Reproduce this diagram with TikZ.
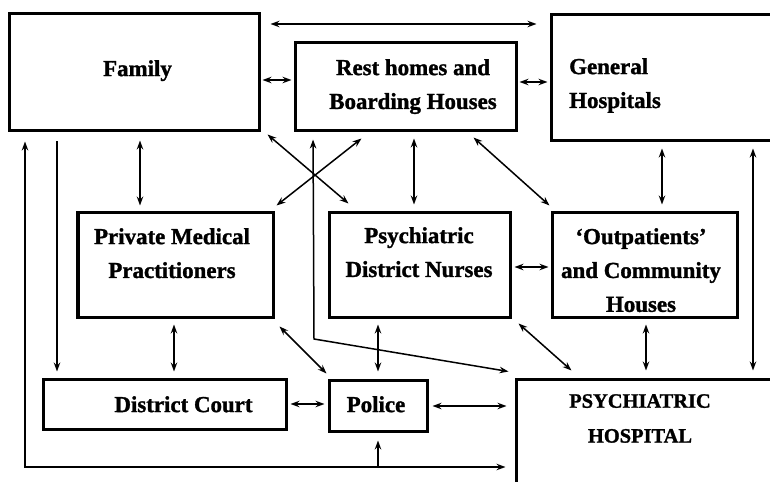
\documentclass[tikz,border=0pt]{standalone}
\usepackage{fontspec}
\setmainfont{Liberation Serif}[BoldFeatures={FakeBold=1.3}]
\usetikzlibrary{arrows.meta,calc}
\begin{document}
\begin{tikzpicture}[x=1bp,y=-1bp,
  box/.style={draw, line width=3bp, inner sep=0pt, rectangle},
  lbl/.style={font=\bfseries\fontsize{23}{34}\selectfont, inner sep=0pt, anchor=north, align=center},
  cn/.style={line width=1.5bp},
  >={Stealth[length=9bp,width=6.5bp]}
]
\useasboundingbox (0,0) rectangle (770,482);
\clip (0,0) rectangle (770,482);
% boxes
\node[box, minimum width=249bp, minimum height=117bp] (fam) at (134.5,72.5) {};
\node[box, minimum width=221bp, minimum height=88bp] (rest) at (405.5,87) {};
\node[box, minimum width=239bp, minimum height=126bp] (gen) at (670.5,78) {};
\node[box, minimum width=195bp, minimum height=104bp] (pmp) at (175.5,265) {};
\node[box, minimum width=181bp, minimum height=104bp] (pdn) at (419.5,265) {};
\node[box, minimum width=185bp, minimum height=104bp] (opc) at (644.5,265) {};
\node[box, minimum width=242bp, minimum height=50bp] (dc) at (165,404) {};
\node[box, minimum width=98bp, minimum height=51bp] (pol) at (378,405.5) {};
\node[box, minimum width=274bp, minimum height=121bp] (psh) at (653,439.5) {};
% labels
\node[lbl] (tfam) at (137.5,60) {Family};
\node[lbl] (trest) at (413,59) {Rest homes and\\Boarding Houses};
\node[lbl, anchor=north west, align=left] (tgen) at (569,58) {General\\Hospitals};
\node[lbl] (tpmp) at (172,228) {Private Medical\\Practitioners};
\node[lbl] (tpdn) at (419,227) {Psychiatric\\District Nurses};
\node[lbl] (topc) at (641,228) {`Outpatients'\\and Community\\Houses};
\node[lbl] (tdc) at (183.5,396) {District Court};
\node[lbl] (tpol) at (376,396) {Police};
\node[lbl, font=\bfseries\fontsize{20.5}{35}\selectfont] (tpsh) at (640,394) {PSYCHIATRIC\\HOSPITAL};
% connectors
\draw[cn,<->,shorten <=10bp,shorten >=13bp] (fam.east |- 0,24) -- (gen.west |- 0,24);
\draw[cn,<->,shorten <=2bp,shorten >=2bp] (fam.east |- 0,80) -- (rest.west |- 0,80);
\draw[cn,<->,shorten <=2bp,shorten >=2bp] (rest.east |- 0,82) -- (gen.west |- 0,82);
\draw[cn,<->,shorten <=8bp,shorten >=6bp] (140,0 |- fam.south) -- (140,0 |- pmp.north);
\draw[cn,<->] ($(fam.south east)+(7,2)$) -- ($(pdn.north west)+(21,-8)$);
\draw[cn,<->] ($(rest.south west)+(68,6)$) -- ($(pmp.north east)+(2,-6)$);
\draw[cn,<->,shorten <=7bp] (313,0 |- rest.south) -- (314,339) -- ($(psh.north west)+(-6,-6)$);
\draw[cn,<->,shorten <=6bp,shorten >=7bp] (414,0 |- rest.south) -- (414,0 |- pdn.north);
\draw[cn,<->] ($(rest.south east)+(-44,5)$) -- ($(opc.north west)+(-1,-6)$);
\draw[cn,<->,shorten <=6bp,shorten >=7bp] (662,0 |- gen.south) -- (662,0 |- opc.north);
\draw[cn,<->,shorten <=6bp,shorten >=7bp] (753,0 |- gen.south) -- (753,0 |- psh.north);
\draw[cn,->,shorten <=9bp,shorten >=6bp] (57,0 |- fam.south) -- (57,0 |- dc.north);
\draw[cn,<->,shorten <=9bp,shorten >=9bp] (25,0 |- fam.south) -- (25,467) -- (psh.west |- 0,467);
\coordinate (pb) at (378,467);
\draw[cn,->,shorten >=8bp] (pb) -- (pol.south);
\draw[cn,<->,shorten <=6bp,shorten >=6bp] (174,0 |- pmp.south) -- (174,0 |- dc.north);
\draw[cn,<->] ($(pmp.south east)+(5,8)$) -- ($(pol.north west)+(-1,-5)$);
\draw[cn,<->,shorten <=6bp,shorten >=7bp] (378,0 |- pdn.south) -- (378,0 |- pol.north);
\draw[cn,<->,shorten <=3bp,shorten >=2bp] (pdn.east |- 0,267) -- (opc.west |- 0,267);
\draw[cn,<->] ($(pdn.south east)+(7,5)$) -- ($(psh.north west)+(57,-7)$);
\draw[cn,<->,shorten <=6bp,shorten >=7bp] (646,0 |- opc.south) -- (646,0 |- psh.north);
\draw[cn,<->,shorten <=3bp,shorten >=3bp] (dc.east |- 0,404) -- (pol.west |- 0,404);
\draw[cn,<->,shorten <=4bp,shorten >=8bp] (pol.east |- 0,406) -- (psh.west |- 0,406);
\end{tikzpicture}
\end{document}
